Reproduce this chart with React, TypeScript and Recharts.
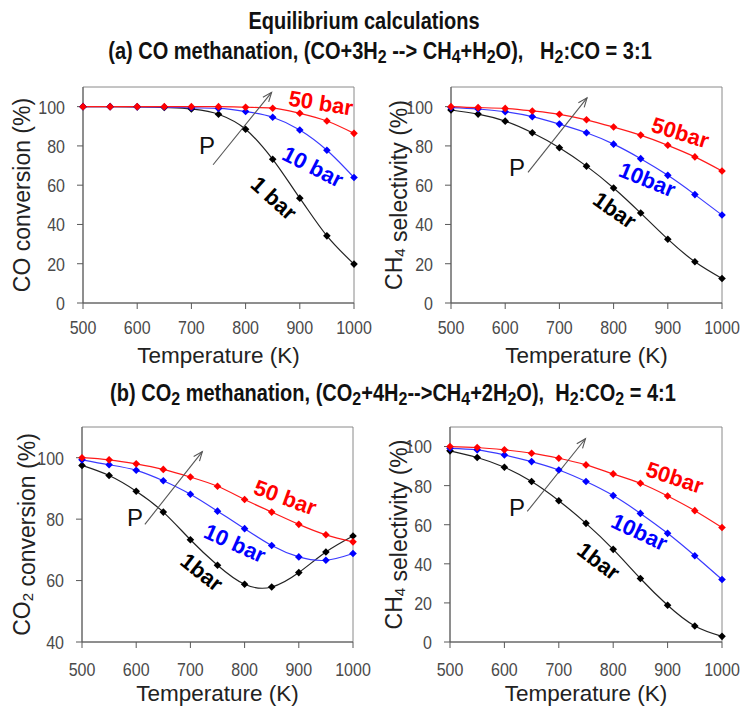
import React from 'react';
import { LineChart, Line, XAxis, YAxis, ReferenceDot, ReferenceLine, ReferenceArea, Label } from 'recharts';

// ---------- data ----------
const temperatures = [500, 550, 600, 650, 700, 750, 800, 850, 900, 950, 1000];
const xTicks = [500, 600, 700, 800, 900, 1000];
const yTicksA = [0, 20, 40, 60, 80, 100];
const yTicksB = [40, 60, 80, 100];

// (a) CO methanation – CO conversion (%)
const coConv1bar = [100, 100, 99.9, 99.6, 98.8, 96.1, 88.5, 73.2, 53.4, 34.2, 19.8];
const coConv10bar = [100, 100, 99.9, 99.8, 99.4, 99.1, 97.5, 94.6, 88.1, 77.8, 63.9];
const coConv50bar = [100, 100, 100, 100, 100, 100, 99.7, 99.2, 96.6, 92.7, 86.4];

// (a) CO methanation – CH4 selectivity (%)
const coSel1bar = [98.3, 96.2, 92.6, 86.7, 79.1, 69.7, 58.6, 45.8, 32.5, 21, 12.5];
const coSel10bar = [99.5, 98.8, 97.4, 94.9, 91.1, 86.7, 80.9, 73.5, 65, 55.2, 44.8];
const coSel50bar = [100, 99.5, 99.1, 97.8, 96.1, 93.3, 89.6, 85.5, 80.3, 74.4, 67.2];

// (b) CO2 methanation – CO2 conversion (%)
const co2Conv1bar = [97.5, 94.2, 89.1, 82.3, 73.3, 65, 58.8, 57.9, 62.6, 69.3, 74.5];
const co2Conv10bar = [99.3, 97.7, 95.9, 92.5, 88.1, 82.6, 76.9, 71.4, 67.7, 66.6, 68.8];
const co2Conv50bar = [100, 99.3, 98, 96.2, 93.7, 90.7, 86.4, 82.3, 78.3, 74.9, 72.6];

// (b) CO2 methanation – CH4 selectivity (%)
const co2Sel1bar = [97.8, 94.4, 89.4, 82.1, 72.3, 60.7, 47.4, 32.5, 18.8, 8.2, 2.9];
const co2Sel10bar = [99.1, 98.3, 95.7, 92.3, 88, 82.1, 74.9, 65.8, 55.6, 44.1, 32];
const co2Sel50bar = [100, 99.5, 98.3, 96.6, 94, 90.6, 86, 81.2, 74.7, 67.2, 58.6];

// pressure label texts per panel (1 / 10 / 50 bar)
const textsCoConv = ['1 bar', '10 bar', '50 bar'];
const textsCoSel = ['1bar', '10bar', '50bar'];
const textsCo2Conv = ['1bar', '10 bar', '50 bar'];
const textsCo2Sel = ['1bar', '10bar', '50bar'];

// annotation anchors (T, value, angle) for the 1 / 10 / 50 bar labels
const labelsCoConv = [
  { t: 852, v: 53.3, angle: 42 },
  { t: 924, v: 69.4, angle: 27 },
  { t: 939, v: 101.8, angle: 9 },
];
const labelsCoSel = [
  { t: 802, v: 47.2, angle: 35 },
  { t: 862, v: 62.8, angle: 22 },
  { t: 923, v: 86.7, angle: 17 },
];
const labelsCo2Conv = [
  { t: 721, v: 62.7, angle: 38 },
  { t: 782, v: 72.1, angle: 24 },
  { t: 875, v: 87, angle: 20 },
];
const labelsCo2Sel = [
  { t: 773, v: 41.3, angle: 37 },
  { t: 848, v: 56.2, angle: 25 },
  { t: 913, v: 84.1, angle: 18 },
];

// "P" arrows: [from, to] and P letter position
const arrowCoConv = [{ x: 740, y: 70.4 }, { x: 848, y: 107.3 }];
const arrowCoSel = [{ x: 642, y: 66.5 }, { x: 751, y: 104.5 }];
const arrowCo2Conv = [{ x: 616, y: 78.3 }, { x: 722, y: 102 }];
const arrowCo2Sel = [{ x: 642, y: 66.8 }, { x: 749, y: 104 }];
const pCoConv = { t: 729, v: 80 };
const pCoSel = { t: 622, v: 69.2 };
const pCo2Conv = { t: 598, v: 80.5 };
const pCo2Sel = { t: 623, v: 68.7 };

// ---------- styling ----------
const FONT = "'Liberation Sans', Arial, Helvetica, sans-serif";
const COLORS = ['#000000', '#0000ff', '#ff0000'];
const LINE_COLORS = ['#222222', '#3a3aff', '#ff1a1a'];
const AXIS = '#595959';
const TICK_FILL = '#4a4a4a';

const makeDot = (color: string) => (props: any) => {
  const { cx, cy, index } = props;
  if (cx == null || cy == null) return <g key={`e-${index}`} />;
  const s = 3.8;
  return (
    <path
      key={`d-${index}`}
      d={`M${cx},${cy - s}L${cx + s},${cy}L${cx},${cy + s}L${cx - s},${cy}Z`}
      fill={color}
    />
  );
};

const arrowShape = (props: any) => {
  const { x1, y1, x2, y2 } = props;
  const ang = Math.atan2(y2 - y1, x2 - x1);
  const L = 10;
  const a1 = ang + Math.PI - 0.38;
  const a2 = ang + Math.PI + 0.38;
  return (
    <g>
      <line x1={x1} y1={y1} x2={x2} y2={y2} stroke="#555" strokeWidth={1.1} />
      <polyline
        points={`${x2 + L * Math.cos(a1)},${y2 + L * Math.sin(a1)} ${x2},${y2} ${x2 + L * Math.cos(a2)},${y2 + L * Math.sin(a2)}`}
        fill="none"
        stroke="#555"
        strokeWidth={1.1}
      />
    </g>
  );
};

const TickX = (p: any) => (
  <g transform={`translate(${p.x},${p.y})`}>
    <text transform="scale(1,1.2)" textAnchor="middle" dy="0.71em" fontSize={16} fontFamily={FONT} fill={TICK_FILL}>
      {p.payload.value}
    </text>
  </g>
);

const TickY = (p: any) => (
  <g transform={`translate(${p.x},${p.y})`}>
    <text transform="scale(1,1.2)" textAnchor="end" dy="0.36em" fontSize={16} fontFamily={FONT} fill={TICK_FILL}>
      {p.payload.value}
    </text>
  </g>
);

type Anchor = { t: number; v: number; angle: number };

type PanelProps = {
  left: number;
  top: number;
  width: number;
  height: number;
  marginTop: number;
  marginRight: number;
  yAxisWidth: number;
  xAxisHeight: number;
  yDomain: [number, number];
  yTicks: number[];
  series: number[][];
  yLabel: React.ReactNode;
  labels: Anchor[];
  texts: string[];
  arrow: { x: number; y: number }[];
  p: { t: number; v: number };
  curve: 'monotone' | 'natural';
  tickMargin: number;
  titleOffset: number;
};

function Panel(props: PanelProps) {
  const rows = temperatures.map((t, i) => ({
    t,
    b1: props.series[0][i],
    b10: props.series[1][i],
    b50: props.series[2][i],
  }));
  const keys = ['b1', 'b10', 'b50'];
  return (
    <div style={{ position: 'absolute', left: props.left, top: props.top }}>
      <LineChart
        width={props.width}
        height={props.height}
        data={rows}
        margin={{ top: props.marginTop, right: props.marginRight, left: 0, bottom: 0 }}
      >
        <ReferenceArea
          x1={500}
          x2={1000}
          y1={props.yDomain[0]}
          y2={props.yDomain[1]}
          fill="none"
          fillOpacity={0}
          stroke="#8a8a8a"
          strokeWidth={1}
        />
        <XAxis
          dataKey="t"
          type="number"
          domain={[500, 1000]}
          ticks={xTicks}
          height={props.xAxisHeight}
          stroke={AXIS}
          tickSize={6}
          tickMargin={props.tickMargin}
          tick={TickX}
          interval={0}
        >
          <Label
            content={(lp: any) => {
              const vb = lp.viewBox || {};
              const cx = vb.x + vb.width / 2;
              const cy = vb.y + props.titleOffset;
              return (
                <text x={cx} y={cy} textAnchor="middle" dominantBaseline="central" fontSize={22.5} fontFamily={FONT} fill="#222">
                  Temperature (K)
                </text>
              );
            }}
          />
        </XAxis>
        <YAxis
          type="number"
          domain={props.yDomain}
          ticks={props.yTicks}
          width={props.yAxisWidth}
          stroke={AXIS}
          tickSize={6}
          tickMargin={12}
          tick={TickY}
          interval={0}
        >
          <Label
            content={(lp: any) => {
              const vb = lp.viewBox || {};
              const cx = vb.x + 22;
              const cy = vb.y + vb.height / 2;
              return (
                <text
                  x={cx}
                  y={cy}
                  transform={`rotate(-90 ${cx} ${cy})`}
                  textAnchor="middle"
                  dominantBaseline="central"
                  fontSize={23}
                  fontFamily={FONT}
                  fill="#222"
                >
                  {props.yLabel}
                </text>
              );
            }}
          />
        </YAxis>
        {keys.map((k, i) => (
          <Line
            key={k}
            dataKey={k}
            type={props.curve}
            stroke={LINE_COLORS[i]}
            strokeWidth={1.2}
            dot={makeDot(COLORS[i])}
            activeDot={false}
            isAnimationActive={false}
          />
        ))}
        <ReferenceLine segment={props.arrow as any} shape={arrowShape} ifOverflow="visible" />
        <ReferenceDot
          x={props.p.t}
          y={props.p.v}
          ifOverflow="visible"
          shape={(sp: any) => (
            <text x={sp.cx} y={sp.cy} textAnchor="middle" dominantBaseline="central" fontSize={24} fontFamily={FONT} fill="#111">
              P
            </text>
          )}
        />
        {props.labels.map((a, i) => (
          <ReferenceDot
            key={`lab-${i}`}
            x={a.t}
            y={a.v}
            ifOverflow="visible"
            shape={(sp: any) => (
              <text
                x={sp.cx}
                y={sp.cy}
                transform={`rotate(${a.angle} ${sp.cx} ${sp.cy})`}
                textAnchor="middle"
                dominantBaseline="central"
                fontSize={22}
                fontWeight="bold"
                fontFamily={FONT}
                fill={COLORS[i]}
              >
                {props.texts[i]}
              </text>
            )}
          />
        ))}
      </LineChart>
    </div>
  );
}

const sub = (t: string) => (
  <span style={{ fontSize: '0.8em', verticalAlign: '-0.22em' }}>{t}</span>
);

const svgSub = (t: string) => (
  <>
    <tspan dy={5} fontSize={15}>{t}</tspan>
    <tspan dy={-5}>{''}</tspan>
  </>
);

const titleStyle: React.CSSProperties = {
  position: 'absolute',
  left: 0,
  textAlign: 'center',
  fontWeight: 'bold',
  whiteSpace: 'pre',
  transform: 'scaleY(1.15)',
};

export default function App() {
  return (
    <div
      style={{
        position: 'absolute',
        left: 0,
        top: 0,
        width: 744,
        height: 706,
        background: '#fff',
        fontFamily: FONT,
        color: '#111',
      }}
    >
      <div style={{ ...titleStyle, width: 728, top: 7, fontSize: 20, lineHeight: '28px' }}>
        Equilibrium calculations
      </div>
      <div style={{ ...titleStyle, width: 760, top: 38, fontSize: 20, lineHeight: '26px' }}>
        (a) CO methanation, (CO+3H{sub('2')} --&gt; CH{sub('4')}+H{sub('2')}O),{'   '}H{sub('2')}:CO = 3:1
      </div>
      <div style={{ ...titleStyle, width: 786, top: 380, fontSize: 20, lineHeight: '26px' }}>
        (b) CO{sub('2')} methanation, (CO{sub('2')}+4H{sub('2')}--&gt;CH{sub('4')}+2H{sub('2')}O),{'  '}H{sub('2')}:CO{sub('2')} = 4:1
      </div>

      <Panel
        left={0}
        top={75}
        width={372}
        height={300}
        marginTop={12}
        marginRight={18}
        yAxisWidth={83}
        xAxisHeight={72}
        yDomain={[0, 110]}
        yTicks={yTicksA}
        series={[coConv1bar, coConv10bar, coConv50bar]}
        yLabel={<>CO conversion (%)</>}
        labels={labelsCoConv}
        texts={textsCoConv}
        arrow={arrowCoConv}
        p={pCoConv}
        curve="monotone"
        tickMargin={11}
        titleOffset={52}
      />
      <Panel
        left={372}
        top={75}
        width={372}
        height={300}
        marginTop={12}
        marginRight={22}
        yAxisWidth={79}
        xAxisHeight={72}
        yDomain={[0, 110]}
        yTicks={yTicksA}
        series={[coSel1bar, coSel10bar, coSel50bar]}
        yLabel={<>CH{svgSub('4')} selectivity (%)</>}
        labels={labelsCoSel}
        texts={textsCoSel}
        arrow={arrowCoSel}
        p={pCoSel}
        curve="natural"
        tickMargin={11}
        titleOffset={52}
      />
      <Panel
        left={0}
        top={415}
        width={372}
        height={291}
        marginTop={12}
        marginRight={19}
        yAxisWidth={82}
        xAxisHeight={64}
        yDomain={[40, 110]}
        yTicks={yTicksB}
        series={[co2Conv1bar, co2Conv10bar, co2Conv50bar]}
        yLabel={<>CO{svgSub('2')} conversion (%)</>}
        labels={labelsCo2Conv}
        texts={textsCo2Conv}
        arrow={arrowCo2Conv}
        p={pCo2Conv}
        curve="natural"
        tickMargin={14}
        titleOffset={51}
      />
      <Panel
        left={372}
        top={415}
        width={372}
        height={291}
        marginTop={12}
        marginRight={22}
        yAxisWidth={78}
        xAxisHeight={64}
        yDomain={[0, 110]}
        yTicks={yTicksA}
        series={[co2Sel1bar, co2Sel10bar, co2Sel50bar]}
        yLabel={<>CH{svgSub('4')} selectivity (%)</>}
        labels={labelsCo2Sel}
        texts={textsCo2Sel}
        arrow={arrowCo2Sel}
        p={pCo2Sel}
        curve="natural"
        tickMargin={14}
        titleOffset={51}
      />
    </div>
  );
}
